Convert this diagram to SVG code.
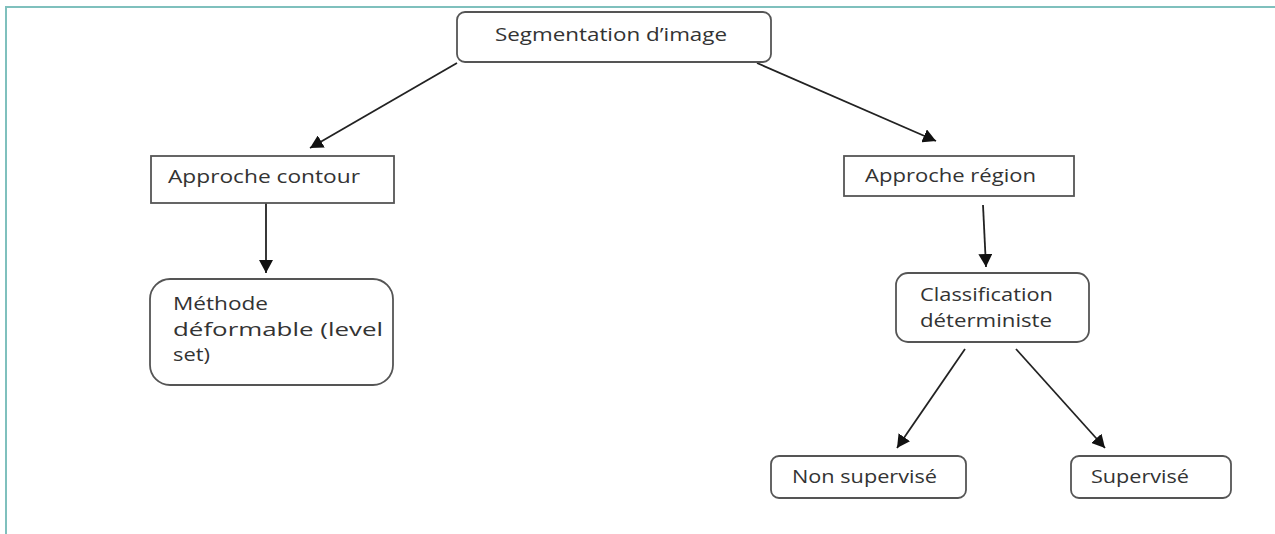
<svg xmlns="http://www.w3.org/2000/svg" width="1275" height="534" viewBox="0 0 1275 534">
<style>
.box{fill:#fff;stroke:#555;stroke-width:1.8}
.t{font-family:"Open Sans","Liberation Sans",sans-serif;font-size:18px;fill:#333}
.c{stroke:#222;stroke-width:1.8;fill:none}
.frame{stroke:#7fc0bd;stroke-width:2;fill:none}
</style>
<defs>
<marker id="ah" markerUnits="userSpaceOnUse" markerWidth="16" markerHeight="14" refX="13" refY="7" orient="auto">
<path d="M0,0 L13,7 L0,14 Z" fill="#111"/>
</marker>
</defs>
<rect width="1275" height="534" fill="#fff"/>
<path class="frame" d="M6,534 V7 H1275"/>
<g id="connectors">
<line class="c" x1="457" y1="63" x2="310" y2="148" marker-end="url(#ah)"/>
<line class="c" x1="757" y1="63" x2="936" y2="141" marker-end="url(#ah)"/>
<line class="c" x1="266" y1="203" x2="266" y2="273" marker-end="url(#ah)"/>
<line class="c" x1="983" y1="205" x2="986" y2="267" marker-end="url(#ah)"/>
<line class="c" x1="965" y1="349" x2="897" y2="448" marker-end="url(#ah)"/>
<line class="c" x1="1016" y1="349" x2="1105" y2="448" marker-end="url(#ah)"/>
</g>
<g id="n-segmentation">
<rect class="box" x="457" y="12" width="314" height="50" rx="8"/>
<text class="t" x="495" y="41" font-size="20" textLength="232" lengthAdjust="spacingAndGlyphs">Segmentation d’image</text>
</g>
<g id="n-contour">
<rect class="box" x="151" y="156" width="243" height="47"/>
<text class="t" x="168" y="183" textLength="192" lengthAdjust="spacingAndGlyphs">Approche contour</text>
</g>
<g id="n-region">
<rect class="box" x="844" y="156" width="230" height="40"/>
<text class="t" x="865" y="182" textLength="171" lengthAdjust="spacingAndGlyphs">Approche région</text>
</g>
<g id="n-methode">
<rect class="box" x="150" y="279" width="243" height="106" rx="20"/>
<text class="t" x="173" y="310" textLength="95" lengthAdjust="spacingAndGlyphs">Méthode</text>
<text class="t" x="173" y="336" textLength="210" lengthAdjust="spacingAndGlyphs">déformable (level</text>
<text class="t" x="173" y="361" textLength="37" lengthAdjust="spacingAndGlyphs">set)</text>
</g>
<g id="n-classification">
<rect class="box" x="896" y="273" width="193" height="69" rx="12"/>
<text class="t" x="920" y="301" textLength="133" lengthAdjust="spacingAndGlyphs">Classification</text>
<text class="t" x="920" y="327" textLength="132" lengthAdjust="spacingAndGlyphs">déterministe</text>
</g>
<g id="n-nonsup">
<rect class="box" x="771" y="456" width="195" height="42" rx="8"/>
<text class="t" x="792" y="483" textLength="145" lengthAdjust="spacingAndGlyphs">Non supervisé</text>
</g>
<g id="n-sup">
<rect class="box" x="1071" y="456" width="160" height="42" rx="8"/>
<text class="t" x="1091" y="483" textLength="98" lengthAdjust="spacingAndGlyphs">Supervisé</text>
</g>
</svg>
